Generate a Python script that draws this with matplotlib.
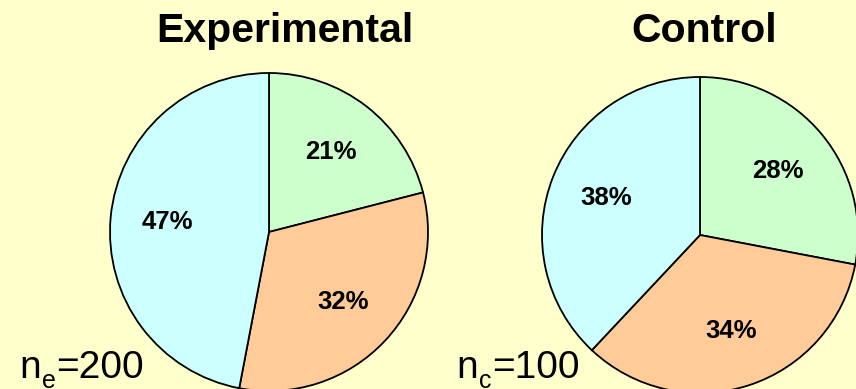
import matplotlib.pyplot as plt

plt.rcParams['font.family'] = ['Liberation Sans', 'DejaVu Sans']

# share of responses in each group (green, orange, blue; clockwise from top)
exp_shares = [21, 32, 47]
ctl_shares = [28, 34, 38]
slice_colors = ['#CCFFCC', '#FFCC99', '#CCFFFF']
groups = ['Experimental', 'Control']
group_n = [200, 100]
group_sub = ['e', 'c']

W, H = 856, 389
bg = '#FFFFCC'

fig = plt.figure(figsize=(W / 100, H / 100), dpi=100, facecolor=bg)
renderer = fig.canvas.get_renderer()


def draw_pie(shares, cx, cy, r):
    ax = fig.add_axes([(cx - r) / W, (H - cy - r) / H, 2 * r / W, 2 * r / H])
    ax.set_facecolor('none')
    wedges, texts, autotexts = ax.pie(
        shares, colors=slice_colors, startangle=90, counterclock=False,
        autopct='%d%%', pctdistance=0.64,
        wedgeprops={'edgecolor': 'black', 'linewidth': 1.3},
        textprops={'fontsize': 18.5, 'fontweight': 'bold'})
    for w in wedges:
        w.set_clip_on(False)
    ax.set_xlim(-1, 1)
    ax.set_ylim(-1, 1)
    ax.set_aspect('equal')
    ax.axis('off')
    return ax


def sample_size(x, base, sub, n):
    # "n", a lowered small subscript, then "=N", laid out left to right in pixels
    y = 1 - base / H
    t = fig.text(x / W, y, 'n', ha='left', va='baseline', fontsize=28)
    x = t.get_window_extent(renderer).x1 + 1
    t = fig.text(x / W, y - 10 / H, sub, ha='left', va='baseline', fontsize=18)
    x = t.get_window_extent(renderer).x1 + 1
    fig.text(x / W, y, '=%d' % n, ha='left', va='baseline', fontsize=28)


draw_pie(exp_shares, 269, 232, 159)
draw_pie(ctl_shares, 700, 235, 158)

fig.text(285 / W, 1 - 31 / H, groups[0], ha='center', va='center',
         fontsize=29.5, fontweight='bold')
fig.text(704 / W, 1 - 31 / H, groups[1], ha='center', va='center',
         fontsize=29.5, fontweight='bold')

sample_size(19, 378, group_sub[0], group_n[0])
sample_size(456, 378, group_sub[1], group_n[1])

fig.savefig('out.png', dpi=100, facecolor=bg)
